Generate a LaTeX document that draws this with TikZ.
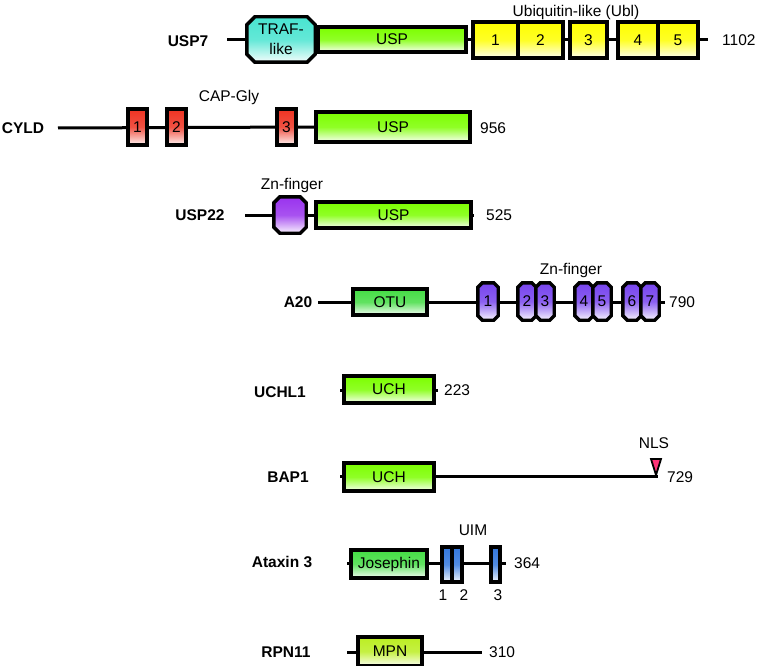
\documentclass[tikz,border=0pt]{standalone}
\usepackage{fontspec}
\setmainfont{Liberation Sans}
\newcommand\fsz{\fontsize{15.5}{20}\selectfont}
\definecolor{uspc}{HTML}{7CFF00}
\definecolor{trafc}{HTML}{48E4D0}
\definecolor{ublc}{HTML}{FFFF00}
\definecolor{capc}{HTML}{EE3322}
\definecolor{znc}{HTML}{9933EE}
\definecolor{zfc}{HTML}{7744EE}
\definecolor{otuc}{HTML}{44DD44}
\definecolor{josc}{HTML}{44DD44}
\definecolor{uimc}{HTML}{3377DD}
\definecolor{mpnc}{HTML}{BBEE22}
\definecolor{nlsc}{HTML}{FF3377}
% octagon outline round an (invisible) named node: name, chamfer, colour
\newcommand\octo[3]{%
  \path[draw, line width=3.4pt, line join=miter, top color=#3, bottom color=#3!6!white, middle color=#3!85!white]
  ([xshift=#2]#1.north west) -- ([xshift=-#2]#1.north east) -- ([yshift=-#2]#1.north east) --
  ([yshift=#2]#1.south east) -- ([xshift=-#2]#1.south east) -- ([xshift=#2]#1.south west) --
  ([yshift=#2]#1.south west) -- ([yshift=-#2]#1.north west) -- cycle;}
\begin{document}
\begin{tikzpicture}[x=1pt,y=-1pt,
  dom/.style={draw, line width=3.4pt, rectangle, inner sep=0pt, font=\fsz},
  gr/.style={top color=#1, bottom color=#1!6!white, middle color=#1!85!white},
  frame/.style={rectangle, inner sep=0pt},
  backbone/.style={line width=3pt},
  lab/.style={font=\fsz\bfseries, inner sep=0pt},
  txt/.style={font=\fsz, inner sep=0pt}]
\useasboundingbox (0,0) rectangle (757,666);

% ---------------- USP7
\node[lab] (l1) at (188,41) {USP7};
\coordinate (u7s) at (227,40);
\coordinate (u7e) at (708,40);
\draw[backbone] (u7s) -- (u7e);
\node[frame, minimum width=68pt, minimum height=45pt] (u7traf) at (281,39.5) {};
\octo{u7traf}{8pt}{trafc}
\node[txt, align=center] (u7traft) at (u7traf.center) {TRAF-\\like};
\node[dom, gr=uspc, minimum width=148pt, minimum height=25pt] (u7usp) at (392,39.5) {USP};
\node[dom, gr=ublc, minimum width=45pt, minimum height=36pt] (ubl1) at (495.5,40) {1};
\node[dom, gr=ublc, minimum width=45pt, minimum height=36pt] (ubl2) at (540.5,40) {2};
\node[dom, gr=ublc, minimum width=37pt, minimum height=36pt] (ubl3) at (588.5,40) {3};
\node[dom, gr=ublc, minimum width=40pt, minimum height=36pt] (ubl4) at (638,40) {4};
\node[dom, gr=ublc, minimum width=40pt, minimum height=36pt] (ubl5) at (678,40) {5};
\node[txt, anchor=west] (n1) at (722,40) {1102};
\node[txt] (t1) at (576,12) {Ubiquitin-like (Ubl)};

% ---------------- CYLD
\node[lab] (l2) at (23,128) {CYLD};
\coordinate (cys) at (58,128);
\node[dom, gr=uspc, minimum width=154pt, minimum height=30pt] (cyusp) at (393,127) {USP};
\draw[backbone] (cys) -- (cyusp.west);
\node[dom, gr=capc, minimum width=19pt, minimum height=36pt] (cap1) at (137.5,127) {1};
\node[dom, gr=capc, minimum width=19pt, minimum height=36pt] (cap2) at (176.5,127) {2};
\node[dom, gr=capc, minimum width=19pt, minimum height=36pt] (cap3) at (286.5,127) {3};
\node[txt, anchor=west] (n2) at (480,128) {956};
\node[txt] (t2) at (229,97) {CAP-Gly};

% ---------------- USP22
\node[lab] (l3) at (200,215) {USP22};
\coordinate (u22s) at (245,215);
\coordinate (u22e) at (474,215);
\draw[backbone] (u22s) -- (u22e);
\node[frame, minimum width=32pt, minimum height=36pt] (u22zn) at (290,215) {};
\octo{u22zn}{6pt}{znc}
\node[dom, gr=uspc, minimum width=155pt, minimum height=26pt] (u22usp) at (393.5,215) {USP};
\node[txt, anchor=west] (n3) at (486,215) {525};
\node[txt] (t3) at (292,185) {Zn-finger};

% ---------------- A20
\node[lab] (l4) at (298,302) {A20};
\coordinate (a20s) at (318,302);
\coordinate (a20e) at (665,302);
\draw[backbone] (a20s) -- (a20e);
\node[dom, gr=otuc, minimum width=74pt, minimum height=26pt] (otu) at (390,302) {OTU};
\foreach \n/\x/\w in {1/488/20, 2/527/18, 3/545/18, 4/584/18, 5/602/18, 6/632/18, 7/650/18}{
  \node[frame, minimum width=\w pt, minimum height=37pt] (zf\n) at (\x,301.5) {};
  \octo{zf\n}{4.5pt}{zfc}
  \node[txt] (zf\n t) at (zf\n.center) {\n};
}
\node[txt, anchor=west] (n4) at (669,302) {790};
\node[txt] (t4) at (571,270) {Zn-finger};

% ---------------- UCHL1
\node[lab] (l5) at (280,392) {UCHL1};
\coordinate (ucs) at (340,390);
\coordinate (uce) at (438,390);
\draw[backbone] (ucs) -- (uce);
\node[dom, gr=uspc, minimum width=90pt, minimum height=27pt] (uch1) at (389,389.5) {UCH};
\node[txt, anchor=west] (n5) at (444,390) {223};

% ---------------- BAP1
\node[lab] (l6) at (288,477) {BAP1};
\coordinate (bas) at (340,476);
\coordinate (bae) at (658,476);
\draw[backbone] (bas) -- (bae);
\node[dom, gr=uspc, minimum width=90pt, minimum height=28pt] (uch2) at (389,477) {UCH};
\draw[fill=nlsc, line width=1.8pt, line join=miter] (651,459) -- (661,459) -- (656,475) -- cycle;
\node[txt] (t6) at (654,443) {NLS};
\node[txt, anchor=west] (n6) at (667,477) {729};

% ---------------- Ataxin 3
\node[lab] (l7) at (282,562) {Ataxin 3};
\coordinate (ats) at (347,563);
\coordinate (ate) at (506,563);
\draw[backbone] (ats) -- (ate);
\node[dom, gr=josc, minimum width=76pt, minimum height=28pt] (jos) at (389,564) {Josephin};
\node[dom, gr=uimc, minimum width=10pt, minimum height=35pt] (uim1) at (447,564.5) {};
\node[dom, gr=uimc, minimum width=10pt, minimum height=35pt] (uim2) at (457,564.5) {};
\node[dom, gr=uimc, minimum width=9pt, minimum height=35pt] (uim3) at (495.5,564.5) {};
\node[txt, anchor=west] (n7) at (514,563) {364};
\node[txt] (t7) at (473,530) {UIM};
\node[txt] (u1) at (443,595) {1};
\node[txt] (u2) at (464,595) {2};
\node[txt] (u3) at (498,595) {3};

% ---------------- RPN11
\node[lab] (l8) at (286,652) {RPN11};
\coordinate (rps) at (347,652);
\coordinate (rpe) at (482,652);
\draw[backbone] (rps) -- (rpe);
\node[dom, gr=mpnc, minimum width=64pt, minimum height=29pt] (mpn) at (390,651.5) {MPN};
\node[txt, anchor=west] (n8) at (489,652) {310};
\end{tikzpicture}
\end{document}
